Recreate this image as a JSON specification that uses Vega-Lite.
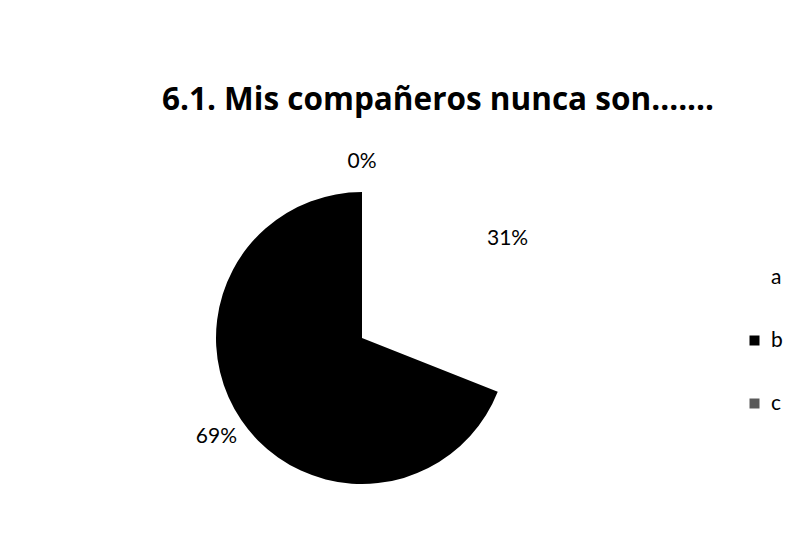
{
  "$schema": "https://vega.github.io/schema/vega-lite/v6.json",
  "width": 300,
  "height": 300,
  "autosize": {"type": "none"},
  "padding": {"left": 212, "top": 188, "right": 278, "bottom": 70},
  "background": "white",
  "config": {"view": {"stroke": null}},
  "title": {
    "text": "6.1. Mis compañeros nunca son.......",
    "font": "Open Sans",
    "fontSize": 31.5,
    "fontWeight": "bold",
    "color": "#000000",
    "anchor": "middle",
    "frame": "group",
    "dx": 76,
    "offset": 35
  },
  "data": {
    "values": [
      {"respuesta": "a", "porcentaje": 0.31},
      {"respuesta": "b", "porcentaje": 0.69},
      {"respuesta": "c", "porcentaje": 0}
    ]
  },
  "layer": [
    {
      "mark": {"type": "arc", "outerRadius": 146, "strokeWidth": 0},
      "encoding": {
        "theta": {"field": "porcentaje", "type": "quantitative", "stack": true},
        "color": {
          "field": "respuesta",
          "type": "nominal",
          "scale": {"domain": ["a", "b", "c"], "range": ["#ffffff", "#000000", "#5a5a5a"]},
          "legend": {
            "orient": "none",
            "legendX": 532,
            "legendY": 79,
            "title": null,
            "labelFont": "Lato",
            "labelFontSize": 21,
            "labelColor": "#000000",
            "labelOffset": 6,
            "symbolType": "square",
            "symbolSize": 100,
            "symbolStrokeWidth": 0,
            "rowPadding": 41
          }
        }
      }
    },
    {
      "mark": {"type": "text", "radius": 176, "font": "Lato", "fontSize": 21, "color": "#000000"},
      "encoding": {
        "theta": {"field": "porcentaje", "type": "quantitative", "stack": true},
        "text": {"field": "porcentaje", "type": "quantitative", "format": ".0%"}
      }
    }
  ]
}
